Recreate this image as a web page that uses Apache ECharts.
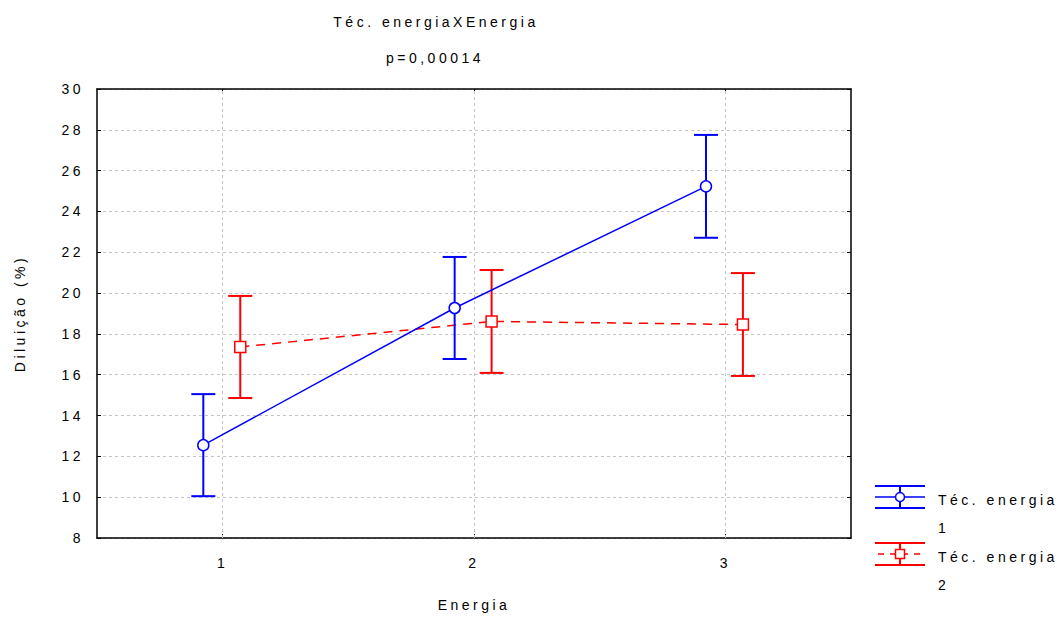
<!DOCTYPE html>
<html>
<head>
<meta charset="utf-8">
<script src="https://cdn.jsdelivr.net/npm/echarts@6/dist/echarts.min.js"></script>
<style>
  html, body { margin: 0; padding: 0; background: #fff; }
  #chart { width: 1057px; height: 617px; }
  #chart text { letter-spacing: 3.5px; }
</style>
</head>
<body>
<div id="chart"></div>
<script>
// Energy levels and the mean dilution (%) with its error half-width per technique
const energia = [1, 2, 3];
const mediaTec1 = [12.55, 19.27, 25.23];
const erroTec1 = [2.5, 2.5, 2.52];
const mediaTec2 = [17.36, 18.61, 18.46];
const erroTec2 = [2.5, 2.52, 2.52];
const yTicks = { min: 8, max: 30, step: 2 };
const nomes = ['Téc. energia 1', 'Téc. energia 2'];

// horizontal nudge so the two techniques do not overlap at each level
const desloc1 = -0.077;
const desloc2 = 0.07;

const AZUL = '#0000ff';
const VERMELHO = '#ff0000';
const FONTE = 'Liberation Sans, Arial, sans-serif';

const pts1 = energia.map((e, i) => [e + desloc1, mediaTec1[i]]);
const pts2 = energia.map((e, i) => [e + desloc2, mediaTec2[i]]);
const barras1 = energia.map((e, i) => [e + desloc1, mediaTec1[i] - erroTec1[i], mediaTec1[i] + erroTec1[i]]);
const barras2 = energia.map((e, i) => [e + desloc2, mediaTec2[i] - erroTec2[i], mediaTec2[i] + erroTec2[i]]);

function barraErro(cor) {
  return function (params, api) {
    const x = api.value(0);
    const lo = api.coord([x, api.value(1)]);
    const hi = api.coord([x, api.value(2)]);
    const w = 12;
    const st = { stroke: cor, lineWidth: 2 };
    return {
      type: 'group',
      children: [
        { type: 'line', shape: { x1: lo[0], y1: lo[1], x2: hi[0], y2: hi[1] }, style: st },
        { type: 'line', shape: { x1: lo[0] - w, y1: lo[1], x2: lo[0] + w, y2: lo[1] }, style: st },
        { type: 'line', shape: { x1: hi[0] - w, y1: hi[1], x2: hi[0] + w, y2: hi[1] }, style: st }
      ]
    };
  };
}

const eixoCat = (pos) => ({
  type: 'category',
  position: pos,
  data: energia.map(String),
  boundaryGap: true,
  axisLine: { show: true, lineStyle: { color: '#000', width: 1.5 } },
  axisTick: { show: true, inside: true, alignWithLabel: true, length: 4, lineStyle: { color: '#000' } },
  axisLabel: pos === 'bottom'
    ? { show: true, color: '#000', fontFamily: FONTE, fontSize: 14, margin: 18 }
    : { show: false },
  splitLine: { show: false },
  name: pos === 'bottom' ? 'Energia' : '',
  nameLocation: 'middle',
  nameGap: 60,
  nameTextStyle: { color: '#000', fontFamily: FONTE, fontSize: 14 }
});

const eixoY = (pos) => ({
  type: 'value',
  position: pos,
  min: yTicks.min,
  max: yTicks.max,
  interval: yTicks.step,
  axisLine: { show: true, lineStyle: { color: '#000', width: 1.5 } },
  axisTick: { show: true, inside: true, length: 4, lineStyle: { color: '#000' } },
  axisLabel: pos === 'left'
    ? { show: true, color: '#000', fontFamily: FONTE, fontSize: 14, margin: 13 }
    : { show: false },
  splitLine: pos === 'left'
    ? { show: true, lineStyle: { color: '#c4c4c4', type: [3, 3], width: 1 } }
    : { show: false },
  name: pos === 'left' ? 'Diluição (%)' : '',
  nameLocation: 'middle',
  nameGap: 70,
  nameTextStyle: { color: '#000', fontFamily: FONTE, fontSize: 14 }
});

const chart = echarts.init(document.getElementById('chart'), null, { renderer: 'svg' });

const option = {
  backgroundColor: '#fff',
  animation: false,
  textStyle: { fontFamily: FONTE },
  grid: { left: 97, right: 206, top: 89, bottom: 79, containLabel: false },
  xAxis: [
    { type: 'value', min: 0.5, max: 3.5, show: false },
    eixoCat('bottom'),
    eixoCat('top')
  ],
  yAxis: [eixoY('left'), eixoY('right')],
  graphic: [
    { type: 'text', x: 436, y: 22, style: { text: 'Téc. energiaXEnergia', font: '14px ' + FONTE, fill: '#000', align: 'center', verticalAlign: 'middle' } },
    { type: 'text', x: 435, y: 58, style: { text: 'p=0,00014', font: '14px ' + FONTE, fill: '#000', align: 'center', verticalAlign: 'middle' } },
    // legend: technique 1
    { type: 'group', children: [
      { type: 'line', shape: { x1: 875, y1: 486, x2: 925, y2: 486 }, style: { stroke: AZUL, lineWidth: 2 } },
      { type: 'line', shape: { x1: 875, y1: 497, x2: 925, y2: 497 }, style: { stroke: AZUL, lineWidth: 1.5 } },
      { type: 'line', shape: { x1: 875, y1: 508, x2: 925, y2: 508 }, style: { stroke: AZUL, lineWidth: 2 } },
      { type: 'line', shape: { x1: 900, y1: 486, x2: 900, y2: 508 }, style: { stroke: AZUL, lineWidth: 2 } },
      { type: 'circle', shape: { cx: 900, cy: 497, r: 4.5 }, style: { fill: '#fff', stroke: AZUL, lineWidth: 1.5 } },
      { type: 'text', x: 938, y: 500, style: { text: 'Téc. energia', font: '14px ' + FONTE, fill: '#000', verticalAlign: 'middle' } },
      { type: 'text', x: 938, y: 528, style: { text: '1', font: '14px ' + FONTE, fill: '#000', verticalAlign: 'middle' } }
    ] },
    // legend: technique 2
    { type: 'group', children: [
      { type: 'line', shape: { x1: 875, y1: 543, x2: 925, y2: 543 }, style: { stroke: VERMELHO, lineWidth: 2 } },
      { type: 'line', shape: { x1: 875, y1: 554, x2: 925, y2: 554 }, style: { stroke: VERMELHO, lineWidth: 1.5, lineDash: [6, 6], lineDashOffset: -3 } },
      { type: 'line', shape: { x1: 875, y1: 565, x2: 925, y2: 565 }, style: { stroke: VERMELHO, lineWidth: 2 } },
      { type: 'line', shape: { x1: 900, y1: 543, x2: 900, y2: 565 }, style: { stroke: VERMELHO, lineWidth: 2 } },
      { type: 'rect', shape: { x: 895.5, y: 549.5, width: 9, height: 9 }, style: { fill: '#fff', stroke: VERMELHO, lineWidth: 1.5 } },
      { type: 'text', x: 938, y: 557, style: { text: 'Téc. energia', font: '14px ' + FONTE, fill: '#000', verticalAlign: 'middle' } },
      { type: 'text', x: 938, y: 585, style: { text: '2', font: '14px ' + FONTE, fill: '#000', verticalAlign: 'middle' } }
    ] }
  ],
  series: [
    {
      // vertical grid lines at each energy level
      type: 'line', xAxisIndex: 0, yAxisIndex: 0, data: [], silent: true,
      markLine: {
        silent: true, symbol: 'none', label: { show: false },
        lineStyle: { color: '#c4c4c4', type: [3, 3], width: 1 },
        data: energia.map(e => ({ xAxis: e }))
      }
    },
    {
      name: nomes[1], type: 'custom', xAxisIndex: 0, yAxisIndex: 0,
      renderItem: barraErro(VERMELHO), data: barras2, z: 3
    },
    {
      name: nomes[1], type: 'line', xAxisIndex: 0, yAxisIndex: 0, data: pts2,
      symbol: 'rect', symbolSize: 11, showAllSymbol: true,
      lineStyle: { color: VERMELHO, width: 1.5, type: [9, 7] },
      itemStyle: { color: '#fff', borderColor: VERMELHO, borderWidth: 1.5 }, z: 4
    },
    {
      name: nomes[0], type: 'custom', xAxisIndex: 0, yAxisIndex: 0,
      renderItem: barraErro(AZUL), data: barras1, z: 5
    },
    {
      name: nomes[0], type: 'line', xAxisIndex: 0, yAxisIndex: 0, data: pts1,
      symbol: 'circle', symbolSize: 11, showAllSymbol: true,
      lineStyle: { color: AZUL, width: 1.5 },
      itemStyle: { color: '#fff', borderColor: AZUL, borderWidth: 1.5 }, z: 6
    }
  ]
};

chart.setOption(option);
</script>
</body>
</html>
